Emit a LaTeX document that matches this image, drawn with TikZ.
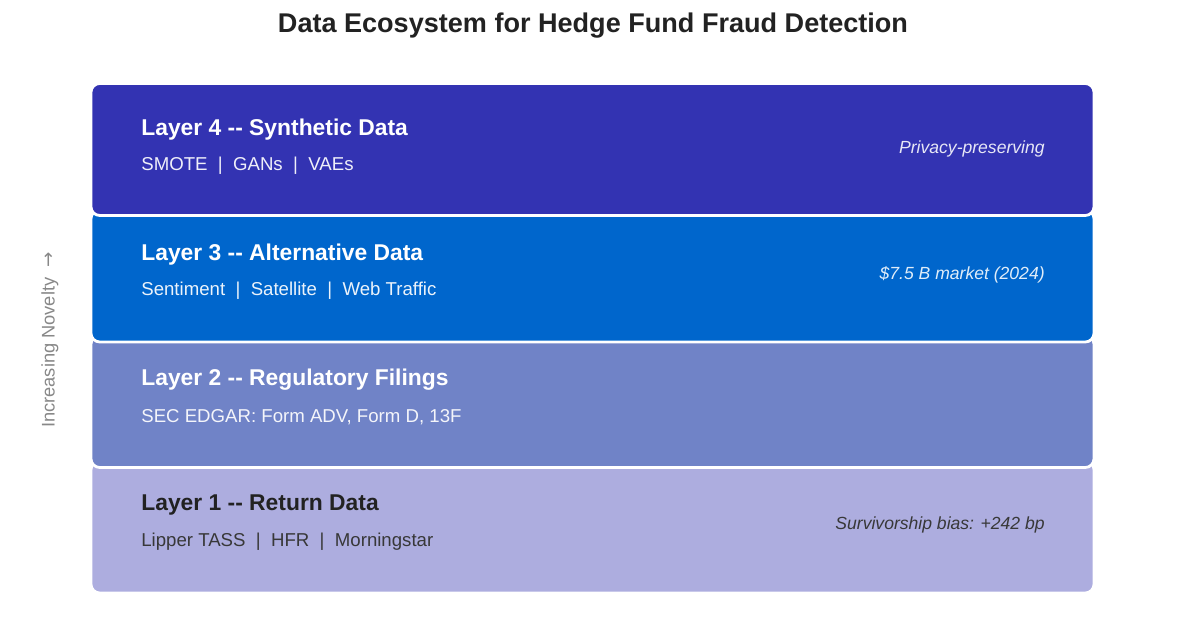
\documentclass[tikz,border=0pt]{standalone}
\usepackage{fontspec}
\setmainfont{Liberation Sans}
\newfontfamily\arrowfont{DejaVu Sans}
\usetikzlibrary{positioning}

\definecolor{synthcol}{HTML}{3333B2}
\definecolor{altcol}{HTML}{0066CC}
\definecolor{regcol}{HTML}{7083C7}
\definecolor{retcol}{HTML}{ADADDF}
\definecolor{darktext}{HTML}{222222}
\definecolor{sidegray}{HTML}{888888}

\newcommand{\sep}{\ \ \textbar\ \ }

\begin{document}
\begin{tikzpicture}
    % Define styles
    \tikzset{
        layerbox/.style={
            draw=white,
            line width=1.6pt,
            rounded corners=5pt,
            minimum width=20.06cm,
            minimum height=2.64cm,
            inner sep=0pt
        },
        layertitle/.style={
            anchor=west,
            font=\fontsize{13}{15}\selectfont\bfseries,
            inner sep=0pt
        },
        layersub/.style={
            anchor=west,
            font=\fontsize{10.6}{12}\selectfont,
            inner sep=0pt
        },
        layernote/.style={
            anchor=east,
            font=\fontsize{10}{12}\selectfont\itshape,
            inner sep=0pt
        }
    }

    \useasboundingbox[fill=white] (0,0) rectangle (23.7,12.56);

    % Title
    \node[font=\fontsize{15.4}{18}\selectfont\bfseries, text=darktext] (title) at (11.86,12.04) {Data Ecosystem for Hedge Fund Fraud Detection};

    % Layer 1 -- return data
    \node[layerbox, fill=retcol] (ret) at (11.85,2.02) {};
    \node[layertitle, text=darktext] (rettitle) at (2.82,2.46) {Layer 1 {-}{-} Return Data};
    \node[layersub, text=darktext!90] (retsub) at (2.82,1.72) {Lipper TASS\sep HFR\sep Morningstar};
    \node[layernote, text=darktext!90] (retnote) at (20.9,2.07) {Survivorship bias: +242 bp};

    % Layer 2 -- regulatory filings
    \node[layerbox, fill=regcol] (reg) at (11.85,4.53) {};
    \node[layertitle, text=white] (regtitle) at (2.82,4.96) {Layer 2 {-}{-} Regulatory Filings};
    \node[layersub, text=white!92!regcol] (regsub) at (2.82,4.22) {SEC EDGAR: Form ADV, Form D, 13F};

    % Layer 3 -- alternative data
    \node[layerbox, fill=altcol] (alt) at (11.85,7.04) {};
    \node[layertitle, text=white] (alttitle) at (2.82,7.46) {Layer 3 {-}{-} Alternative Data};
    \node[layersub, text=white!92!altcol] (altsub) at (2.82,6.74) {Sentiment\sep Satellite\sep Web Traffic};
    \node[layernote, text=white!88!altcol] (altnote) at (20.9,7.07) {\$7.5 B market (2024)};

    % Layer 4 -- synthetic data
    \node[layerbox, fill=synthcol] (synth) at (11.85,9.57) {};
    \node[layertitle, text=white] (synthtitle) at (2.82,9.96) {Layer 4 {-}{-} Synthetic Data};
    \node[layersub, text=white!92!synthcol] (synthsub) at (2.82,9.24) {SMOTE\sep GANs\sep VAEs};
    \node[layernote, text=white!88!synthcol] (synthnote) at (20.9,9.58) {Privacy-preserving};

    % Side label
    \node[rotate=90, font=\fontsize{10.4}{12}\selectfont, text=sidegray] (novelty) at (1.0,5.76) {Increasing Novelty\ \ {\arrowfont →}};
\end{tikzpicture}
\end{document}
